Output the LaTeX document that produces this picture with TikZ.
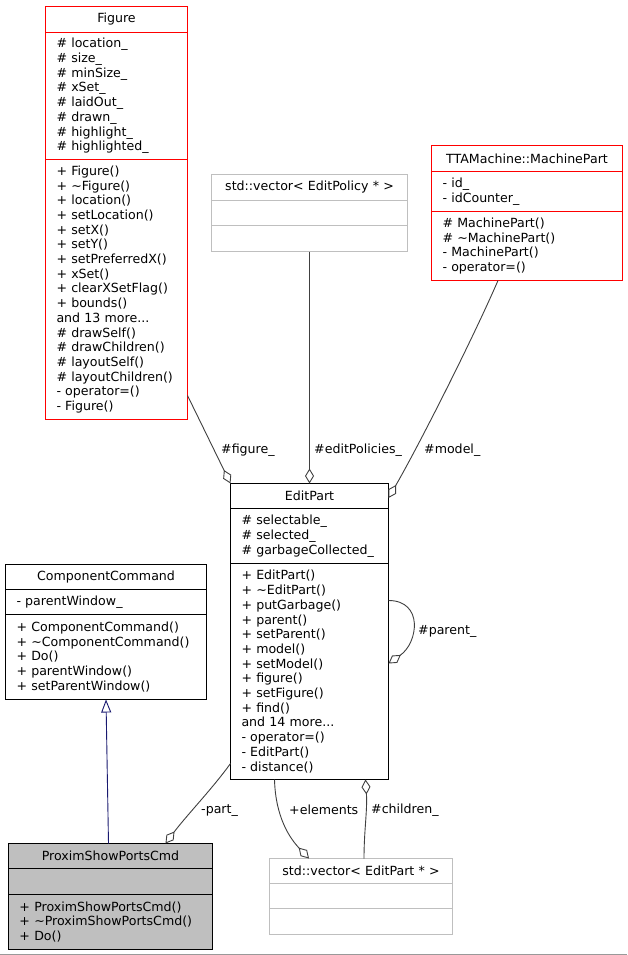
\documentclass[tikz,border=0pt]{standalone}
\usepackage{fontspec}
\setmainfont{DejaVu Sans}
\usepackage{tikz}
\usetikzlibrary{positioning,calc,arrows.meta}

\definecolor{edgegray}{HTML}{404040}
\definecolor{boxgray}{HTML}{BFBFBF}
\definecolor{navyline}{HTML}{191970}
\definecolor{clsred}{HTML}{FF0000}

\begin{document}
\begin{tikzpicture}[x=1pt,y=-1pt,
  every node/.style={font=\fontsize{12.6}{14.7}\selectfont},
  sect/.style={draw,line width=1pt,inner xsep=11pt,inner ysep=0pt,outer sep=0pt,align=left},
  hd/.style={sect,align=center,anchor=north west},
  redcls/.style={draw=clsred},
  veccls/.style={draw=boxgray},
  curcls/.style={fill=boxgray},
  lbl/.style={anchor=west,inner sep=0pt},
  assoc/.style={draw=edgegray,line width=0.9pt,-{Diamond[open,length=15pt,width=9pt]}},
  inherit/.style={draw=navyline,line width=0.9pt,-{Triangle[open,length=13pt,width=10pt]}}]
\useasboundingbox (0,0) rectangle (627,955);
\fill[white] (0,0) rectangle (627,955);

% Figure
\node[hd,redcls,text width=120pt,minimum height=26pt] (fig) at (45.5,6.5) {Figure};
\node[sect,redcls,text width=120pt,minimum height=127pt,below=0pt of fig] (fig-attr)
  {\# location\_\\\# size\_\\\# minSize\_\\\# xSet\_\\\# laidOut\_\\\# drawn\_\\\# highlight\_\\\# highlighted\_};
\node[sect,redcls,text width=120pt,minimum height=260pt,below=0pt of fig-attr] (fig-ops)
  {+ Figure()\\+ \textasciitilde Figure()\\+ location()\\+ setLocation()\\+ setX()\\+ setY()\\+ setPreferredX()\\+ xSet()\\+ clearXSetFlag()\\+ bounds()\\and 13 more...\\\# drawSelf()\\\# drawChildren()\\\# layoutSelf()\\\# layoutChildren()\\- operator=()\\- Figure()};

% std::vector< EditPolicy * >
\node[hd,veccls,text width=174pt,minimum height=26pt] (polvec) at (211.5,174.5) {std::vector< EditPolicy * >};
\node[sect,veccls,text width=174pt,minimum height=25pt,below=0pt of polvec] (polvec-attr) {};
\node[sect,veccls,text width=174pt,minimum height=26pt,below=0pt of polvec-attr] (polvec-ops) {};

% TTAMachine::MachinePart
\node[hd,redcls,text width=169pt,minimum height=26pt] (mp) at (431.5,145.5) {TTAMachine::MachinePart};
\node[sect,redcls,text width=169pt,minimum height=40pt,below=0pt of mp] (mp-attr)
  {- id\_\\- idCounter\_};
\node[sect,redcls,text width=169pt,minimum height=69pt,below=0pt of mp-attr] (mp-ops)
  {\# MachinePart()\\\# \textasciitilde MachinePart()\\- MachinePart()\\- operator=()};

% EditPart
\node[hd,text width=136pt,minimum height=25pt] (ep) at (230.5,483.5) {EditPart};
\node[sect,text width=136pt,minimum height=55pt,below=0pt of ep] (ep-attr)
  {\# selectable\_\\\# selected\_\\\# garbageCollected\_};
\node[sect,text width=136pt,minimum height=216pt,below=0pt of ep-attr] (ep-ops)
  {+ EditPart()\\+ \textasciitilde EditPart()\\+ putGarbage()\\+ parent()\\+ setParent()\\+ model()\\+ setModel()\\+ figure()\\+ setFigure()\\+ find()\\and 14 more...\\- operator=()\\- EditPart()\\- distance()};

% ComponentCommand
\node[hd,text width=179pt,minimum height=25pt] (cc) at (5.5,564.5) {ComponentCommand};
\node[sect,text width=179pt,minimum height=25pt,below=0pt of cc] (cc-attr) {- parentWindow\_};
\node[sect,text width=179pt,minimum height=85pt,below=0pt of cc-attr] (cc-ops)
  {+ ComponentCommand()\\+ \textasciitilde ComponentCommand()\\+ Do()\\+ parentWindow()\\+ setParentWindow()};

% ProximShowPortsCmd
\node[hd,curcls,text width=182pt,minimum height=25pt] (pr) at (8.5,843.5) {ProximShowPortsCmd};
\node[sect,curcls,text width=182pt,minimum height=26pt,below=0pt of pr] (pr-attr) {};
\node[sect,curcls,text width=182pt,minimum height=55pt,below=0pt of pr-attr] (pr-ops)
  {+ ProximShowPortsCmd()\\+ \textasciitilde ProximShowPortsCmd()\\+ Do()};

% std::vector< EditPart * >
\node[hd,veccls,text width=161pt,minimum height=25pt] (pv) at (269.5,858.5) {std::vector< EditPart * >};
\node[sect,veccls,text width=161pt,minimum height=25pt,below=0pt of pv] (pv-attr) {};
\node[sect,veccls,text width=161pt,minimum height=26pt,below=0pt of pv-attr] (pv-ops) {};

% connectors
\draw[assoc] ($(fig-ops.south east)+(0,-24)$) -- (ep.north west);
\draw[assoc] (polvec-ops.south) -- (ep.north);
\draw[assoc] ($(mp-ops.south)+(-29,0)$) .. controls ($(mp-ops.south)+(-55,60)$) and ($(ep.east)+(30,-50)$) .. ($(ep.east)+(0,2)$);
\draw[assoc] ($(ep-ops.north east)+(0,37)$) .. controls ($(ep-ops.north east)+(35,37)$) and ($(ep-ops.north east)+(30,79)$) .. ($(ep-ops.north east)+(0,100)$);
\draw[assoc] ($(ep-ops.south west)+(0,-16)$) .. controls ($(ep-ops.south west)+(-18,9)$) and ($(pr.north)+(76,-28)$) .. ($(pr.north)+(55,0)$);
\draw[inherit] ($(pr.north)+(-2,0)$) -- (cc-ops.south);
\draw[assoc] ($(ep-ops.south west)+(44,0)$) .. controls ($(ep-ops.south west)+(45,38)$) and ($(pv.north)+(-71,-20)$) .. ($(pv.north)+(-52,0)$);
\draw[assoc] ($(pv.north)+(3,0)$) .. controls ($(pv.north)+(3,-28)$) and ($(ep-ops.south)+(58,31)$) .. ($(ep-ops.south)+(56,0)$);

% labels
\node[lbl] (l-figure) at (221,450) {\#figure\_};
\node[lbl] (l-policies) at (314,450) {\#editPolicies\_};
\node[lbl] (l-model) at (424,450) {\#model\_};
\node[lbl] (l-parent) at (418,631) {\#parent\_};
\node[lbl] (l-part) at (201,811) {-part\_};
\node[lbl] (l-elements) at (289,810) {+elements};
\node[lbl] (l-children) at (371,810) {\#children\_};

\draw[boxgray!80!black,line width=1pt] (0,954.5) -- (627,954.5);
\end{tikzpicture}
\end{document}
